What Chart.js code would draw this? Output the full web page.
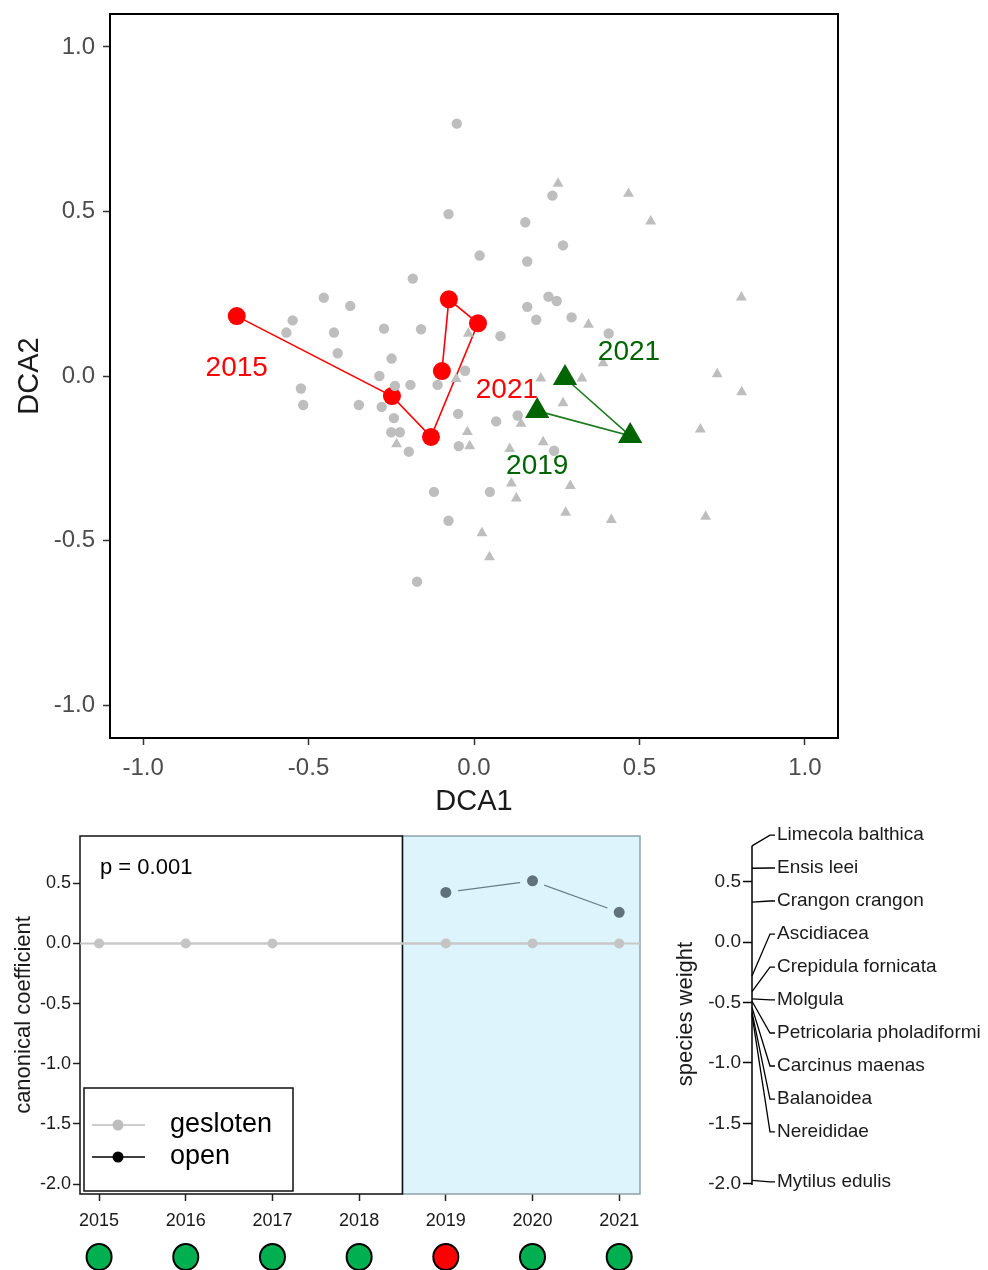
<!DOCTYPE html>
<html>
<head>
<meta charset="utf-8">
<script src="https://cdn.jsdelivr.net/npm/chart.js@4.4.1/dist/chart.umd.min.js"></script>
<style>
  body { margin: 0; background: #fff; width: 988px; height: 1270px; overflow: hidden; position: relative; }
  .panel { position: absolute; }
</style>
</head>
<body>
<div class="panel" style="left:0;top:0;width:988px;height:820px"><canvas id="dca"></canvas></div>
<div class="panel" style="left:0;top:820px;width:660px;height:450px"><canvas id="prc"></canvas></div>
<div class="panel" style="left:660px;top:820px;width:328px;height:380px"><canvas id="spec"></canvas></div>
<script>
// ---- DCA ordination (top) ----
const dcaTicks = [-1, -0.5, 0, 0.5, 1];

// grey site scores: circles = gesloten, triangles = open
const siteCircles = [
  [-0.052, 0.767], [0.237, 0.548], [-0.077, 0.492], [0.155, 0.467], [0.269, 0.397],
  [0.017, 0.366], [0.161, 0.348], [-0.185, 0.296], [-0.454, 0.238], [-0.374, 0.213],
  [0.161, 0.210], [0.225, 0.241], [0.250, 0.228], [-0.548, 0.169], [-0.567, 0.132],
  [-0.423, 0.132], [-0.272, 0.144], [-0.160, 0.142], [0.188, 0.171], [0.295, 0.178],
  [0.080, 0.121], [0.407, 0.129], [-0.412, 0.069], [-0.249, 0.053], [-0.286, 0.000],
  [-0.523, -0.038], [-0.516, -0.088], [-0.348, -0.088], [-0.279, -0.094], [-0.239, -0.030],
  [-0.192, -0.027], [-0.110, -0.027], [-0.027, 0.016], [-0.048, -0.115], [0.067, -0.138],
  [0.132, -0.120], [-0.250, -0.171], [-0.224, -0.171], [-0.197, -0.230], [-0.046, -0.213],
  [-0.121, -0.352], [0.048, -0.352], [-0.077, -0.440], [-0.172, -0.625], [0.242, -0.227],
  [-0.242, -0.128],
];
const siteTriangles = [
  [0.254, 0.585], [0.467, 0.554], [0.534, 0.470], [0.808, 0.239], [0.346, 0.156],
  [-0.017, 0.129], [0.735, 0.006], [0.809, -0.049], [0.326, -0.007], [0.202, -0.007],
  [0.269, -0.082], [0.390, 0.039], [0.142, -0.145], [0.209, -0.201], [0.684, -0.162],
  [-0.020, -0.170], [-0.013, -0.213], [-0.234, -0.207], [0.108, -0.221], [0.291, -0.334],
  [0.113, -0.326], [0.128, -0.372], [0.277, -0.415], [0.415, -0.437], [0.700, -0.427],
  [0.024, -0.477], [0.047, -0.550], [-0.054, -0.009],
];

// yearly centroids
const geslotenYears = [2015, 2016, 2017, 2019, 2020, 2021];
const geslotenDCA1 = [-0.717, -0.248, -0.130, 0.012, -0.076, -0.097];
const geslotenDCA2 = [0.182, -0.061, -0.185, 0.160, 0.233, 0.015];

const openYears = [2019, 2020, 2021];
const openDCA1 = [0.191, 0.472, 0.275];
const openDCA2 = [-0.106, -0.182, -0.006];

// ---- PRC (bottom left) ----
const prcYears = [2015, 2016, 2017, 2018, 2019, 2020, 2021];
const prcTicks = [-2, -1.5, -1, -0.5, 0, 0.5];
const geslotenCoef = [0, 0, 0, null, 0, 0, 0];
const openCoef = [null, null, null, null, 0.424, 0.520, 0.259];
const yearStatus = ['ok', 'ok', 'ok', 'ok', 'bad', 'ok', 'ok'];
const pValue = 'p = 0.001';

// ---- species weights (bottom right) ----
const speciesNames = [
  'Limecola balthica', 'Ensis leei', 'Crangon crangon', 'Ascidiacea', 'Crepidula fornicata',
  'Molgula', 'Petricolaria pholadiformi', 'Carcinus maenas', 'Balanoidea', 'Nereididae', 'Mytilus edulis',
];
const speciesWeights = [0.795, 0.61, 0.33, -0.28, -0.41, -0.47, -0.49, -0.54, -0.58, -0.60, -1.97];
const speciesLabelAt = [0.884, 0.612, 0.339, 0.066, -0.207, -0.479, -0.752, -1.025, -1.298, -1.570, -1.983];

const FONT = "'Liberation Sans', Arial, sans-serif";
Chart.defaults.font.family = FONT;
Chart.defaults.animation = false;

const fixedTicks = values => scale => { scale.ticks = values.map(v => ({ value: v })); };
const pts = (xs, ys) => xs.map((x, i) => ({ x, y: ys[i] }));
// fixed axis box, and no extra room reserved for end labels
const fitBox = (w, h) => s => {
  if (w != null) s.width = w;
  if (h != null) s.height = h;
  s.paddingTop = 0; s.paddingBottom = 0; s.paddingLeft = 0; s.paddingRight = 0;
};

const boxPlugin = {
  id: 'box',
  afterDraw(chart) {
    const { ctx, chartArea: a } = chart;
    ctx.save();
    ctx.strokeStyle = '#000';
    ctx.lineWidth = 2;
    ctx.strokeRect(a.left, a.top, a.right - a.left, a.bottom - a.top);
    ctx.restore();
  },
};

const yearTagPlugin = {
  id: 'yearTags',
  afterDatasetsDraw(chart) {
    const { ctx } = chart;
    const tags = [
      { ds: 2, i: 0, dx: 0, dy: 52, text: geslotenYears[0], color: '#ff0000' },
      { ds: 2, i: geslotenYears.length - 1, dx: 65, dy: 19, text: geslotenYears[geslotenYears.length - 1], color: '#ff0000' },
      { ds: 3, i: 0, dx: 0, dy: 55, text: openYears[0], color: '#006400' },
      { ds: 3, i: openYears.length - 1, dx: 64, dy: -26, text: openYears[openYears.length - 1], color: '#006400' },
    ];
    ctx.save();
    ctx.font = `28px ${FONT}`;
    ctx.textAlign = 'center';
    ctx.textBaseline = 'middle';
    tags.forEach(t => {
      const el = chart.getDatasetMeta(t.ds).data[t.i];
      ctx.fillStyle = t.color;
      ctx.fillText(String(t.text), el.x + t.dx, el.y + t.dy);
    });
    ctx.restore();
  },
};

new Chart(document.getElementById('dca'), {
  type: 'scatter',
  data: {
    datasets: [
      { data: siteCircles.map(([x, y]) => ({ x, y })), pointStyle: 'circle', pointRadius: 5.2,
        backgroundColor: '#bebebe', borderWidth: 0 },
      { data: siteTriangles.map(([x, y]) => ({ x, y })), pointStyle: 'triangle', pointRadius: 6.3,
        backgroundColor: '#bebebe', borderWidth: 0 },
      { data: pts(geslotenDCA1, geslotenDCA2), showLine: true, borderColor: '#ff0000', borderWidth: 1.6,
        pointStyle: 'circle', pointRadius: 9, pointBackgroundColor: '#ff0000', pointBorderWidth: 0 },
      { data: pts(openDCA1, openDCA2), showLine: true, borderColor: '#1e7a1e', borderWidth: 1.6,
        pointStyle: 'triangle', pointRadius: 14, pointBackgroundColor: '#006400', pointBorderWidth: 0 },
    ],
  },
  options: {
    responsive: true,
    maintainAspectRatio: false,
    layout: { padding: { top: 10, right: 150, left: 0, bottom: 0 } },
    plugins: { legend: { display: false }, tooltip: { enabled: false } },
    scales: {
      x: {
        type: 'linear', min: -1.1, max: 1.1,
        afterBuildTicks: fixedTicks(dcaTicks),
        afterFit: fitBox(null, 82),
        border: { display: false },
        grid: { drawOnChartArea: false, drawTicks: true, tickLength: 7, tickColor: '#333', tickWidth: 1.5 },
        ticks: { color: '#4d4d4d', font: { size: 24 }, padding: 9, maxRotation: 0, callback: v => v.toFixed(1) },
        title: { display: true, text: 'DCA1', color: '#1a1a1a', font: { size: 29 }, padding: { top: 0, bottom: 1 } },
      },
      y: {
        type: 'linear', min: -1.1, max: 1.1,
        afterBuildTicks: fixedTicks(dcaTicks),
        afterFit: fitBox(110, null),
        border: { display: false },
        grid: { drawOnChartArea: false, drawTicks: true, tickLength: 7, tickColor: '#333', tickWidth: 1.5 },
        ticks: { color: '#4d4d4d', font: { size: 24 }, padding: 8, callback: v => v.toFixed(1) },
        title: { display: true, text: 'DCA2', color: '#1a1a1a', font: { size: 29 }, padding: { top: 13, bottom: 0 } },
      },
    },
  },
  plugins: [boxPlugin, yearTagPlugin],
});

// ---- PRC ----
const prcPanels = {
  id: 'prcPanels',
  beforeDatasetsDraw(chart) {
    const { ctx, chartArea: a, scales: { x, y } } = chart;
    const split = x.getPixelForValue(2018.5);
    ctx.save();
    ctx.fillStyle = '#ddf4fc';
    ctx.fillRect(split, a.top, a.right - split, a.bottom - a.top);
    ctx.lineWidth = 1.5;
    ctx.strokeStyle = '#8da3ac';
    ctx.strokeRect(split, a.top, a.right - split, a.bottom - a.top);
    ctx.strokeStyle = '#111';
    ctx.strokeRect(a.left, a.top, split - a.left, a.bottom - a.top);
    // zero line
    const y0 = y.getPixelForValue(0);
    ctx.strokeStyle = '#c8c8c8';
    ctx.lineWidth = 2;
    ctx.beginPath();
    ctx.moveTo(a.left, y0);
    ctx.lineTo(a.right, y0);
    ctx.stroke();
    ctx.restore();
  },
  afterDraw(chart) {
    const { ctx, chartArea: a, scales: { x } } = chart;
    ctx.save();
    // p value
    ctx.fillStyle = '#000';
    ctx.font = `22px ${FONT}`;
    ctx.textBaseline = 'middle';
    ctx.fillText(pValue, a.left + 20, a.top + 32);
    // legend
    const lx = a.left + 4, ly = a.bottom - 106, lw = 209, lh = 103;
    ctx.fillStyle = '#fff';
    ctx.fillRect(lx, ly, lw, lh);
    ctx.strokeStyle = '#111';
    ctx.lineWidth = 1.5;
    ctx.strokeRect(lx, ly, lw, lh);
    const entries = [
      { text: 'gesloten', color: '#bdbdbd', dy: 37 },
      { text: 'open', color: '#000', dy: 69 },
    ];
    ctx.font = `27px ${FONT}`;
    entries.forEach(e => {
      const yy = ly + e.dy;
      ctx.strokeStyle = e.color;
      ctx.lineWidth = 1.5;
      ctx.beginPath();
      ctx.moveTo(lx + 8, yy);
      ctx.lineTo(lx + 61, yy);
      ctx.stroke();
      ctx.fillStyle = e.color;
      ctx.beginPath();
      ctx.arc(lx + 34, yy, 5.5, 0, Math.PI * 2);
      ctx.fill();
      ctx.fillStyle = '#000';
      ctx.fillText(e.text, lx + 86, yy);
    });
    // status dots under the year axis
    prcYears.forEach((yr, i) => {
      const cx = x.getPixelForValue(yr);
      ctx.beginPath();
      ctx.ellipse(cx, a.bottom + 63, 12.5, 13, 0, 0, Math.PI * 2);
      ctx.fillStyle = yearStatus[i] === 'bad' ? '#ff0000' : '#00b050';
      ctx.fill();
      ctx.lineWidth = 2;
      ctx.strokeStyle = '#000';
      ctx.stroke();
    });
    ctx.restore();
  },
};

new Chart(document.getElementById('prc'), {
  type: 'line',
  data: {
    datasets: [
      { label: 'gesloten', data: pts(prcYears, geslotenCoef), spanGaps: true, borderColor: '#c8c8c8',
        borderWidth: 2, pointRadius: 5, pointBackgroundColor: '#c4c4c4', pointBorderWidth: 0 },
      { label: 'open', data: pts(prcYears, openCoef), borderColor: '#667c86', borderWidth: 1.2,
        pointRadius: 9, pointBackgroundColor: '#5f737c', pointBorderColor: '#ddf4fc', pointBorderWidth: 7 },
    ],
  },
  options: {
    responsive: true,
    maintainAspectRatio: false,
    layout: { padding: { top: 14, right: 20, left: 0, bottom: 0 } },
    plugins: { legend: { display: false }, tooltip: { enabled: false } },
    scales: {
      x: {
        type: 'linear', min: 2014.78, max: 2021.24,
        afterBuildTicks: fixedTicks(prcYears),
        afterFit: fitBox(null, 76),
        border: { display: false },
        grid: { drawOnChartArea: false, drawTicks: true, tickLength: 7, tickColor: '#222', tickWidth: 1.5 },
        ticks: { color: '#1a1a1a', font: { size: 18 }, padding: 9, maxRotation: 0, callback: v => String(v) },
      },
      y: {
        type: 'linear', min: -2.083, max: 0.893,
        afterBuildTicks: fixedTicks(prcTicks),
        afterFit: fitBox(80, null),
        border: { display: false },
        grid: { drawOnChartArea: false, drawTicks: true, tickLength: 7, tickColor: '#222', tickWidth: 1.5 },
        ticks: { color: '#1a1a1a', font: { size: 18 }, padding: 2, callback: v => v.toFixed(1) },
        title: { display: true, text: 'canonical coefficient', color: '#1a1a1a', font: { size: 22 },
          padding: { top: 11, bottom: 0 } },
      },
    },
  },
  plugins: [prcPanels],
});

// ---- species weights ----
const speciesStack = {
  id: 'speciesStack',
  afterDraw(chart) {
    const { ctx, chartArea: a, scales: { y } } = chart;
    const ax = a.left;
    ctx.save();
    ctx.strokeStyle = '#000';
    ctx.lineWidth = 1.5;
    ctx.beginPath();
    ctx.moveTo(ax, y.getPixelForValue(Math.max(...speciesWeights)));
    ctx.lineTo(ax, y.getPixelForValue(Math.min(...prcTicks)) + 1);
    ctx.stroke();
    ctx.font = `19px ${FONT}`;
    ctx.textBaseline = 'middle';
    ctx.fillStyle = '#1a1a1a';
    ctx.lineWidth = 1.3;
    speciesNames.forEach((name, i) => {
      const yw = y.getPixelForValue(speciesWeights[i]);
      const yl = y.getPixelForValue(speciesLabelAt[i]);
      ctx.beginPath();
      ctx.moveTo(ax, yw);
      ctx.lineTo(ax + 18, yl);
      ctx.lineTo(ax + 23, yl);
      ctx.stroke();
      ctx.fillText(name, ax + 25, yl);
    });
    ctx.restore();
  },
};

new Chart(document.getElementById('spec'), {
  type: 'scatter',
  data: {
    datasets: [
      { data: speciesWeights.map(w => ({ x: 0, y: w })), pointRadius: 0 },
    ],
  },
  options: {
    responsive: true,
    maintainAspectRatio: false,
    layout: { padding: { top: 14, right: 0, left: 0, bottom: 6 } },
    plugins: { legend: { display: false }, tooltip: { enabled: false } },
    scales: {
      x: { type: 'linear', min: 0, max: 1, display: false },
      y: {
        type: 'linear', min: -2.083, max: 0.893,
        afterBuildTicks: fixedTicks(prcTicks),
        afterFit: fitBox(92, null),
        border: { display: false },
        grid: { drawOnChartArea: false, drawTicks: true, tickLength: 9, tickColor: '#000', tickWidth: 1.5 },
        ticks: { color: '#222', font: { size: 19 }, padding: 2, callback: v => v.toFixed(1) },
        title: { display: true, text: 'species weight', color: '#1a1a1a', font: { size: 22 },
          padding: { top: 13, bottom: 0 } },
      },
    },
  },
  plugins: [speciesStack],
});
</script>
</body>
</html>
